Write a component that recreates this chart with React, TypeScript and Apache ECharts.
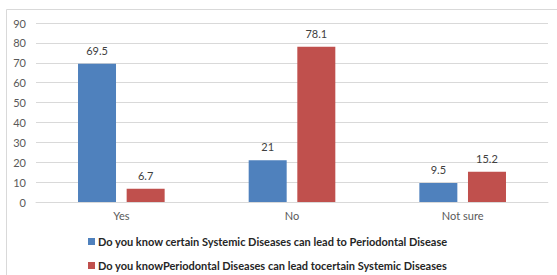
import React, { useEffect, useRef } from "react";
import * as echarts from "echarts";

const categories = ["Yes", "No", "Not sure"];
const seriesNames = [
  "Do you know certain Systemic Diseases can lead to Periodontal Disease",
  "Do you knowPeriodontal Diseases can lead tocertain Systemic Diseases",
];
const systemicToPerio = [69.5, 21, 9.5];
const perioToSystemic = [6.7, 78.1, 15.2];
const yTicks = { min: 0, max: 90, interval: 10 };

export default function App() {
  const ref = useRef<HTMLDivElement>(null);
  useEffect(() => {
    const chart = echarts.init(ref.current!, null, { renderer: "svg" });
    const font = "Lato, 'Open Sans', sans-serif";
    const legendBase = {
      orient: "horizontal",
      left: 88,
      padding: 0,
      itemWidth: 7,
      itemHeight: 7,
      icon: "rect",
      textStyle: { color: "#262626", fontSize: 11, fontWeight: "bold", fontFamily: font, padding: [0, 0, 0, -2] },
    };
    chart.setOption({
      animation: false,
      textStyle: { fontFamily: font },
      graphic: [
        {
          type: "rect",
          shape: { x: 6.5, y: 9.5, width: 560, height: 300 },
          style: { fill: "none", stroke: "#d9d9d9", lineWidth: 1 },
          silent: true,
        },
      ],
      grid: { left: 36, right: 9, top: 23, bottom: 73 },
      xAxis: {
        type: "category",
        data: categories,
        axisTick: { show: false },
        axisLine: { lineStyle: { color: "#d9d9d9" } },
        axisLabel: { color: "#595959", fontSize: 11, margin: 8, fontFamily: font },
      },
      yAxis: {
        type: "value",
        min: yTicks.min,
        max: yTicks.max,
        interval: yTicks.interval,
        axisLine: { show: false },
        axisTick: { show: false },
        splitLine: { lineStyle: { color: "#d9d9d9" } },
        axisLabel: { color: "#595959", fontSize: 11, margin: 10, fontFamily: font },
      },
      legend: [
        { ...legendBase, top: 236, data: [seriesNames[0]] },
        { ...legendBase, top: 260, data: [seriesNames[1]] },
      ],
      series: [
        {
          name: seriesNames[0],
          type: "bar",
          data: systemicToPerio,
          barWidth: 38,
          barGap: "28%",
          itemStyle: { color: "#4f81bd" },
          label: { show: true, position: "top", color: "#404040", fontSize: 11, distance: 8, fontFamily: font },
        },
        {
          name: seriesNames[1],
          type: "bar",
          data: perioToSystemic,
          barWidth: 38,
          barGap: "28%",
          itemStyle: { color: "#c0504d" },
          label: { show: true, position: "top", color: "#404040", fontSize: 11, distance: 8, fontFamily: font },
        },
      ],
    });
    return () => chart.dispose();
  }, []);
  return (
    <div
      ref={ref}
      style={{ position: "fixed", left: 0, top: 0, width: 557, height: 275, background: "#fff" }}
    />
  );
}
